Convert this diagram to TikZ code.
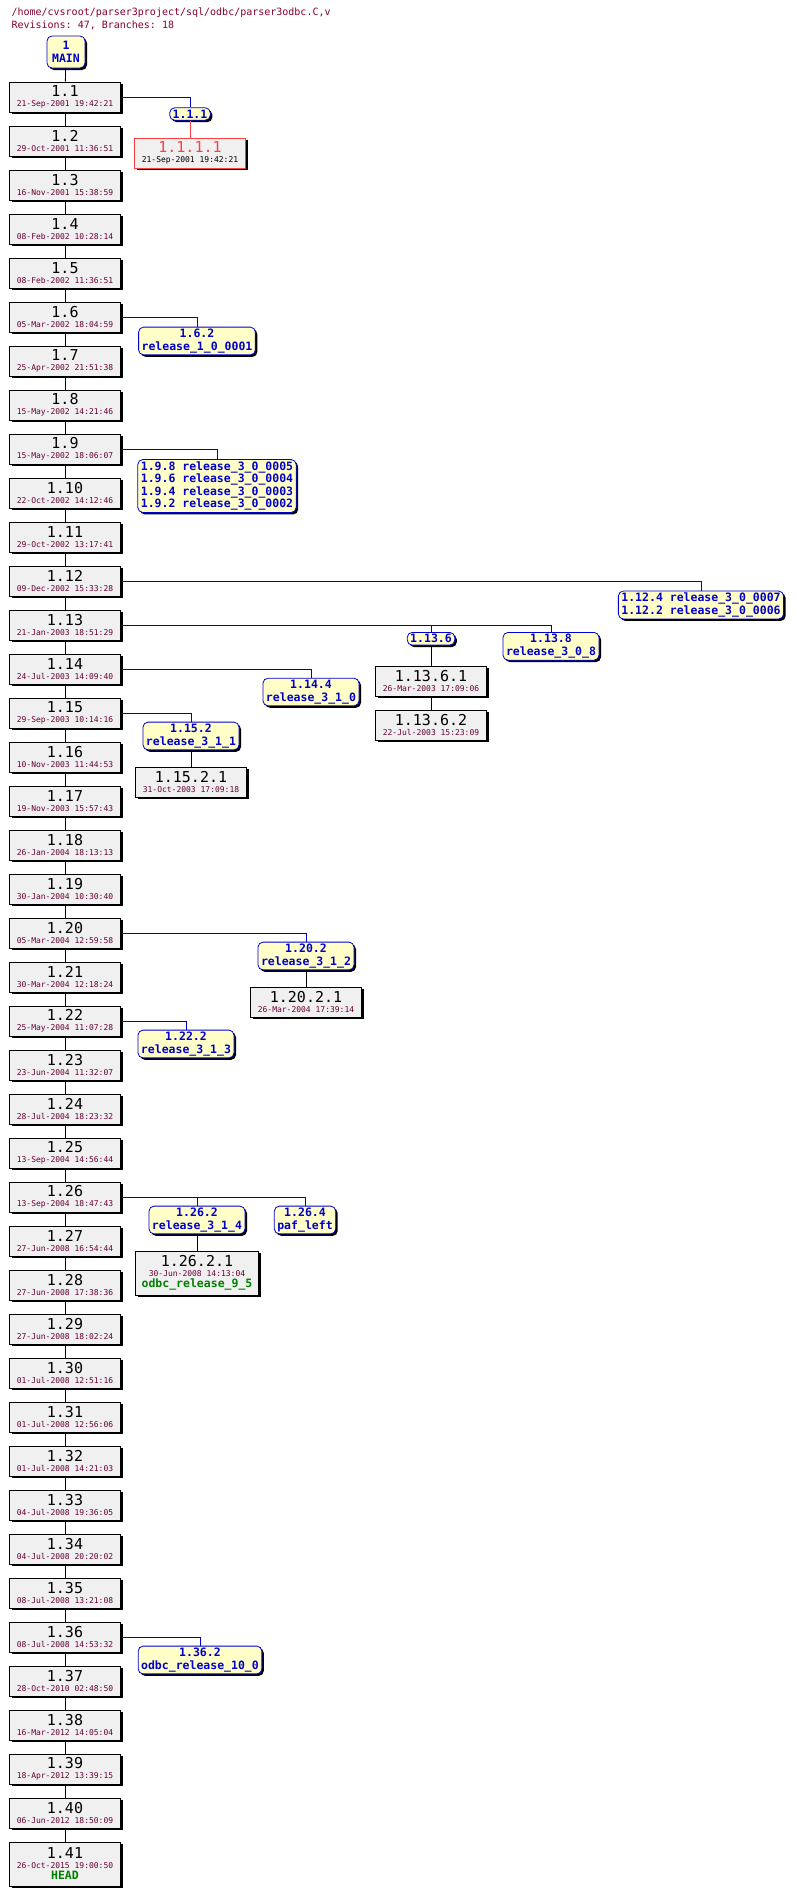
\documentclass[tikz,border=0pt]{standalone}
\usepackage{fontspec}
\setmonofont{DejaVu Sans Mono}
\usetikzlibrary{shadows}
\definecolor{datered}{rgb}{0.40,0.00,0.20}
\definecolor{tagblue}{rgb}{0.00,0.00,0.80}
\definecolor{headgreen}{rgb}{0.00,0.50,0.00}
\definecolor{tagfill}{rgb}{1.00,1.00,0.78}
\definecolor{revfill}{rgb}{0.94,0.94,0.94}
\definecolor{deadred}{rgb}{1.00,0.25,0.25}
\newcommand{\revfont}{\ttfamily\fontsize{15}{13}\selectfont}
\newcommand{\datefont}{\ttfamily\fontsize{8}{8}\selectfont\color{datered}}
\newcommand{\tagfont}{\ttfamily\bfseries\fontsize{11.5}{12.5}\selectfont}
\tikzset{
  rev/.style={rectangle, draw=black, fill=revfill, thick, minimum width=111pt, minimum height=30pt, inner sep=0pt, align=center,
    drop shadow={shadow xshift=2pt, shadow yshift=-2pt, fill=black, opacity=1}},
  tagbox/.style={rectangle, rounded corners=5pt, draw=tagblue, fill=tagfill, thick, inner xsep=3pt, inner ysep=2pt, align=center, text=tagblue, font=\tagfont,
    drop shadow={shadow xshift=2pt, shadow yshift=-2pt, fill=black, opacity=1}},
  trunk/.style={black, thick},
  branch/.style={tagblue, thick},
}
\begin{document}
\begin{tikzpicture}[x=1pt,y=-1pt]
\useasboundingbox (0,0) rectangle (796,1895);
% header
\node (path) [anchor=west, font=\ttfamily\fontsize{10}{10}\selectfont, text=datered!80!red] at (8,13) {/home/cvsroot/parser3project/sql/odbc/parser3odbc.C,v};
\node (stats) [anchor=west, font=\ttfamily\fontsize{10}{10}\selectfont, text=datered!80!red] at (8,25) {Revisions: 47, Branches: 18};
\node (main) [tagbox, minimum width=38pt, minimum height=32pt] at (66,52) {1\\MAIN};
% trunk revisions
\foreach \n/\d in {1/21-Sep-2001 19:42:21, 2/29-Oct-2001 11:36:51, 3/16-Nov-2001 15:38:59, 4/08-Feb-2002 10:28:14,
  5/08-Feb-2002 11:36:51, 6/05-Mar-2002 18:04:59, 7/25-Apr-2002 21:51:38, 8/15-May-2002 14:21:46,
  9/15-May-2002 18:06:07, 10/22-Oct-2002 14:12:46, 11/29-Oct-2002 13:17:41, 12/09-Dec-2002 15:33:28,
  13/21-Jan-2003 18:51:29, 14/24-Jul-2003 14:09:40, 15/29-Sep-2003 10:14:16, 16/10-Nov-2003 11:44:53,
  17/19-Nov-2003 15:57:43, 18/26-Jan-2004 18:13:13, 19/30-Jan-2004 10:30:40, 20/05-Mar-2004 12:59:58,
  21/30-Mar-2004 12:18:24, 22/25-May-2004 11:07:28, 23/23-Jun-2004 11:32:07, 24/28-Jul-2004 18:23:32,
  25/13-Sep-2004 14:56:44, 26/13-Sep-2004 18:47:43, 27/27-Jun-2008 16:54:44, 28/27-Jun-2008 17:38:36,
  29/27-Jun-2008 18:02:24, 30/01-Jul-2008 12:51:16, 31/01-Jul-2008 12:56:06, 32/01-Jul-2008 14:21:03,
  33/04-Jul-2008 19:36:05, 34/04-Jul-2008 20:20:02, 35/08-Jul-2008 13:21:08, 36/08-Jul-2008 14:53:32,
  37/28-Oct-2010 02:48:50, 38/16-Mar-2012 14:05:04, 39/18-Apr-2012 13:39:15, 40/06-Jun-2012 18:50:09}
  \node (r\n) [rev] at (65,{97+44*(\n-1)}) {\revfont 1.\n\\[-2pt]\datefont \d};
\node (r41) [rev, minimum height=44pt] at (65,1864) {\revfont 1.41\\[-2pt]\datefont 26-Oct-2015 19:00:50\\[-1pt]\tagfont\color{headgreen}HEAD};
\draw [trunk] (main) -- (r1);
\foreach \n in {2,...,41} {
  \pgfmathtruncatemacro\p{\n-1}
  \draw [trunk] (r\p) -- (r\n);
}
% branches
\node (b111) [tagbox] at (190,114) {1.1.1};
\node (r1111) [rev, draw=deadred] at (190,153) {\revfont\color{deadred}1.1.1.1\\[-2pt]\datefont\color{black}21-Sep-2001 19:42:21};
\draw [branch] (r1.east) -| (b111.north);
\draw [deadred, thick] (b111) -- (r1111);
\node (b162) [tagbox] at (197,341) {1.6.2\\release\_1\_0\_0001};
\draw [branch] (r6.east) -| (b162.north);
\node (b19) [tagbox] at (217,486) {1.9.8 release\_3\_0\_0005\\1.9.6 release\_3\_0\_0004\\1.9.4 release\_3\_0\_0003\\1.9.2 release\_3\_0\_0002};
\draw [branch] (r9.east) -| (b19.north);
\node (b112) [tagbox] at (701,605) {1.12.4 release\_3\_0\_0007\\1.12.2 release\_3\_0\_0006};
\draw [branch] (r12.east) -| (b112.north);
\node (b1136) [tagbox, anchor=north] at (431,632) {1.13.6};
\node (r11361) [rev] at (431,681) {\revfont 1.13.6.1\\[-2pt]\datefont 26-Mar-2003 17:09:06};
\node (r11362) [rev] at (431,725) {\revfont 1.13.6.2\\[-2pt]\datefont 22-Jul-2003 15:23:09};
\node (b1138) [tagbox, anchor=north] at (551,632) {1.13.8\\release\_3\_0\_8};
\draw [branch] (r13.east) -| (b1138.north);
\draw [branch] (r13.east) -| (b1136.north);
\draw [trunk] (b1136) -- (r11361);
\draw [trunk] (r11361) -- (r11362);
\node (b1144) [tagbox] at (311,692) {1.14.4\\release\_3\_1\_0};
\draw [branch] (r14.east) -| (b1144.north);
\node (b1152) [tagbox] at (191,736) {1.15.2\\release\_3\_1\_1};
\node (r11521) [rev] at (191,782) {\revfont 1.15.2.1\\[-2pt]\datefont 31-Oct-2003 17:09:18};
\draw [branch] (r15.east) -| (b1152.north);
\draw [trunk] (b1152) -- (r11521);
\node (b1202) [tagbox] at (306,956) {1.20.2\\release\_3\_1\_2};
\node (r12021) [rev] at (306,1002) {\revfont 1.20.2.1\\[-2pt]\datefont 26-Mar-2004 17:39:14};
\draw [branch] (r20.east) -| (b1202.north);
\draw [trunk] (b1202) -- (r12021);
\node (b1222) [tagbox] at (186,1044) {1.22.2\\release\_3\_1\_3};
\draw [branch] (r22.east) -| (b1222.north);
\node (b1262) [tagbox] at (197,1220) {1.26.2\\release\_3\_1\_4};
\node (b1264) [tagbox] at (305,1220) {1.26.4\\paf\_left};
\node (r12621) [rev, minimum width=123pt, minimum height=44pt] at (197,1273) {\revfont 1.26.2.1\\[-2pt]\datefont 30-Jun-2008 14:13:04\\[-1pt]\tagfont\color{headgreen}odbc\_release\_9\_5};
\draw [branch] (r26.east) -| (b1264.north);
\draw [branch] (r26.east) -| (b1262.north);
\draw [trunk] (b1262) -- (r12621);
\node (b1362) [tagbox] at (200,1660) {1.36.2\\odbc\_release\_10\_0};
\draw [branch] (r36.east) -| (b1362.north);
\end{tikzpicture}
\end{document}
